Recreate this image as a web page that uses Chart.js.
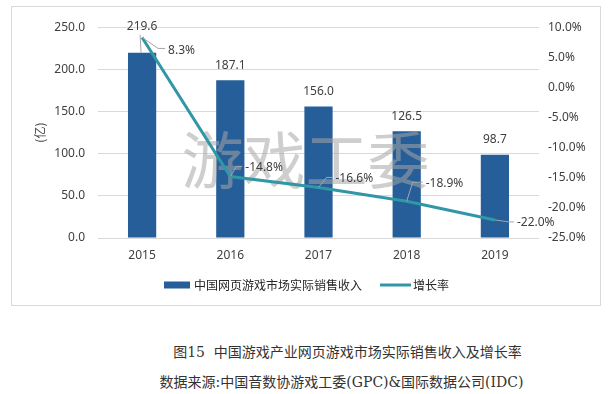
<!DOCTYPE html>
<html>
<head>
<meta charset="utf-8">
<script src="https://cdn.jsdelivr.net/npm/chart.js@4/dist/chart.umd.min.js"></script>
<style>
    body { margin: 0; background: #fff; width: 613px; height: 394px; position: relative; overflow: hidden; }
    #box { position: absolute; left: 11px; top: 6px; width: 590px; height: 300px; border: 1px solid #d9d9d9; box-sizing: border-box; }
    #myChart { display: block; }
    .cap { position: absolute; left: 41px; width: 613px; text-align: center; color: #333; font-family: "DejaVu Serif", "Liberation Serif", "Noto Sans CJK SC", serif; font-size: 14px; }
</style>
</head>
<body>
<div id="box"><canvas id="myChart" width="588" height="298"></canvas></div>
<div class="cap" style="top:341px;">图15&nbsp;&nbsp;中国游戏产业网页游戏市场实际销售收入及增长率</div>
<div class="cap" style="top:371px;left:35px;">数据来源:中国音数协游戏工委(GPC)&amp;国际数据公司(IDC)</div>
<script>
const years = ['2015', '2016', '2017', '2018', '2019'];
const revenue = [219.6, 187.1, 156.0, 126.5, 98.7];
const growth = [8.3, -14.8, -16.6, -18.9, -22.0];
const revenueLabel = '中国网页游戏市场实际销售收入';
const growthLabel = '增长率';

// label placement for the growth labels: [dx to text, dy to text, elbow dx, elbow dy]
const growthLabelPos = [
    [26, 13, 16, 11],
    [15, -9, 6, -10],
    [17, -9, 8, -10],
    [19, -18, 6, -19],
    [22, 3, 14, 2]
];

const barColor = '#255e99';
const lineColor = '#3097a6';
const numFont = '"Noto Sans", "Open Sans", sans-serif';
const cjkFont = '"Noto Sans CJK SC", sans-serif';

const ctx = document.getElementById('myChart').getContext('2d');

const extras = {
    id: 'extras',
    afterDatasetDraw(chart, args) {
        const c = chart.ctx;
        const area = chart.chartArea;
        if (args.meta.type === 'bar') {
            // watermark between bars and line
            c.save();
            c.fillStyle = 'rgba(165,165,165,0.55)';
            c.font = '62px ' + cjkFont;
            c.textAlign = 'center';
            c.textBaseline = 'middle';
            c.fillText('游戏工委', (area.left + area.right) / 2 - 13, 153);
            c.restore();
        }
    },
    afterDatasetsDraw(chart) {
        const c = chart.ctx;
        const barMeta = chart.getDatasetMeta(1);
        const lineMeta = chart.getDatasetMeta(0);
        c.save();
        c.font = '12px ' + numFont;
        c.fillStyle = '#404040';
        c.textBaseline = 'middle';
        c.textAlign = 'center';
        barMeta.data.forEach((bar, i) => {
            const off = i === 0 ? 26 : 15;
            c.fillText(revenue[i].toFixed(1), bar.x, bar.y - off);
            if (i === 0) {
                c.strokeStyle = '#a6a6a6';
                c.lineWidth = 1;
                c.beginPath();
                c.moveTo(bar.x - 2, bar.y - off + 8);
                c.lineTo(bar.x - 1, bar.y);
                c.stroke();
            }
        });
        c.textAlign = 'left';
        lineMeta.data.forEach((pt, i) => {
            const p = growthLabelPos[i];
            c.strokeStyle = '#a6a6a6';
            c.lineWidth = 1;
            c.beginPath();
            c.moveTo(pt.x, pt.y);
            c.lineTo(pt.x + p[2], pt.y + p[3]);
            c.lineTo(pt.x + p[0] - 3, pt.y + p[3]);
            c.stroke();
            c.fillText(growth[i].toFixed(1) + '%', pt.x + p[0], pt.y + p[1]);
        });
        c.restore();
    },
    afterDraw(chart) {
        // legend
        const c = chart.ctx;
        const y = 278;
        c.save();
        c.font = '12px ' + cjkFont;
        c.textBaseline = 'middle';
        c.fillStyle = barColor;
        c.fillRect(152, y - 3.5, 26, 7);
        c.fillStyle = '#262626';
        c.fillText(revenueLabel, 182, y);
        c.strokeStyle = lineColor;
        c.lineWidth = 3;
        c.beginPath();
        c.moveTo(368, y);
        c.lineTo(399, y);
        c.stroke();
        c.fillText(growthLabel, 401, y);
        c.restore();
    }
};

new Chart(ctx, {
    type: 'bar',
    data: {
        labels: years,
        datasets: [
            {
                type: 'line',
                label: growthLabel,
                data: growth,
                yAxisID: 'y1',
                borderColor: lineColor,
                backgroundColor: lineColor,
                borderWidth: 3,
                pointRadius: 0,
                tension: 0,
                order: 0
            },
            {
                type: 'bar',
                label: revenueLabel,
                data: revenue,
                yAxisID: 'y',
                backgroundColor: barColor,
                barPercentage: 0.32,
                categoryPercentage: 1,
                order: 1
            }
        ]
    },
    options: {
        responsive: false,
        animation: false,
        layout: { padding: { top: 16, bottom: 35, left: 0, right: 0 } },
        scales: {
            x: {
                grid: { display: false },
                border: { display: false },
                ticks: { color: '#404040', font: { family: numFont, size: 12 }, padding: 2 },
                afterFit(s) { s.height = 32; }
            },
            y: {
                position: 'left',
                min: 0,
                max: 250,
                ticks: {
                    stepSize: 50,
                    padding: 13,
                    color: '#404040',
                    font: { family: numFont, size: 12 },
                    callback: v => v.toFixed(1)
                },
                grid: { color: '#d9d9d9', drawTicks: false },
                border: { display: false },
                title: {
                    display: true,
                    text: '(亿)',
                    color: '#404040',
                    font: { family: cjkFont, size: 12 },
                    padding: { top: 21, bottom: 0 }
                },
                afterFit(s) { s.width = 86; }
            },
            y1: {
                position: 'right',
                min: -25,
                max: 10,
                ticks: {
                    stepSize: 5,
                    padding: 9,
                    color: '#404040',
                    font: { family: numFont, size: 12 },
                    callback: v => v.toFixed(1) + '%'
                },
                grid: { display: false, drawTicks: false },
                border: { display: false },
                afterFit(s) { s.width = 61; }
            }
        },
        plugins: {
            legend: { display: false },
            tooltip: { enabled: false }
        }
    },
    plugins: [extras]
});
</script>
</body>
</html>
